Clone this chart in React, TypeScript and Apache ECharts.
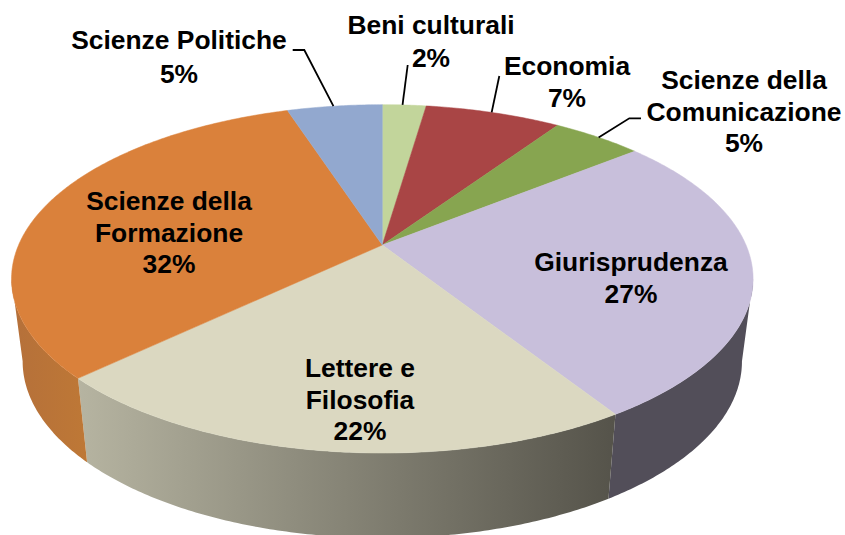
import React, { useEffect, useRef } from "react";
import * as echarts from "echarts";

const categories = ["Beni culturali", "Economia", "Scienze della\nComunicazione", "Giurisprudenza", "Lettere e\nFilosofia", "Scienze della\nFormazione", "Scienze Politiche"];
const shares = [2.3, 7.15, 4.75, 26.8, 21.9, 32.1, 5.0];

const topColors = ["#C2D59B", "#A94545", "#87A550", "#C8BFDB", "#DBD8C1", "#DA813B", "#92A8CF"];
const sideStops: [string, string][] = [
  ["#A0B080", "#A0B080"],
  ["#8A3838", "#8A3838"],
  ["#6E8840", "#6E8840"],
  ["#524E59", "#524E59"],
  ["#B6B4A1", "#55534A"],
  ["#B5703A", "#BE7836"],
  ["#7A8CAD", "#7A8CAD"],
];

// Perspective projection of the pie disc: top face and bottom face
const K = 0.1944;
const CX = 382.3;
const topFace = { cx: CX, cy: 245, b: 363.7, a: 167.6 };
const bottomFace = { cx: CX, cy: 327, b: 352.8, a: 170 };

// Label layout: centre x, first line centre y, leader path start, leader position inside the slice
const labelLayout = [
  { x: 431, y: 25, lh: 33, leader: [[407.7, 65]], at: 0.46 },
  { x: 567, y: 66, lh: 31.5, leader: [[499.3, 76]], at: 0.487 },
  { x: 744, y: 80, lh: 31.5, leader: [[641, 118.3], [629.3, 118.3]], at: 0.514 },
  { x: 631, y: 262, lh: 31.5 },
  { x: 360, y: 368, lh: 31.5 },
  { x: 169, y: 201, lh: 31.5 },
  { x: 179, y: 40, lh: 34, leader: [[292.7, 50], [304.3, 50]], at: 0.488 },
] as { x: number; y: number; lh: number; leader?: number[][]; at?: number }[];

const FONT = '"Liberation Sans", Arial, sans-serif';
const total = shares.reduce((s, v) => s + v, 0);
const starts = shares.map((_, i) => shares.slice(0, i).reduce((s, v) => s + v, 0) / total * Math.PI * 2);
const ends = shares.map((_, i) => shares.slice(0, i + 1).reduce((s, v) => s + v, 0) / total * Math.PI * 2);

function project(f: typeof topFace, t: number): number[] {
  const w = 1 + K * Math.cos(t);
  return [f.cx + (f.b * Math.sin(t)) / w, f.cy - (f.a * Math.cos(t)) / w];
}
function arc(f: typeof topFace, a0: number, a1: number): number[][] {
  const n = Math.max(2, Math.ceil(Math.abs(a1 - a0) / 0.01));
  const out: number[][] = [];
  for (let i = 0; i <= n; i++) out.push(project(f, a0 + ((a1 - a0) * i) / n));
  return out;
}
// silhouette angles of the disc
const visibleFrom = Math.acos(-K);
const visibleTo = Math.PI * 2 - visibleFrom;

const renderSide = (params: any) => {
  const i = params.dataIndex;
  const a0 = Math.max(starts[i], visibleFrom);
  const a1 = Math.min(ends[i], visibleTo);
  if (a1 <= a0) return { type: "group", children: [] };
  const points = [...arc(topFace, a0, a1), ...arc(bottomFace, a0, a1).reverse()];
  const [c0, c1] = sideStops[i];
  return {
    type: "polygon",
    shape: { points },
    style: {
      fill: { type: "linear", x: 0, y: 0, x2: 1, y2: 0, colorStops: [{ offset: 0, color: c0 }, { offset: 1, color: c1 }] },
    },
  };
};

const renderTop = (params: any) => {
  const i = params.dataIndex;
  const points = [[topFace.cx, topFace.cy], ...arc(topFace, starts[i], ends[i])];
  return {
    type: "polygon",
    shape: { points },
    style: { fill: topColors[i], stroke: topColors[i], lineWidth: 0.5 },
  };
};

const renderLabel = (params: any) => {
  const i = params.dataIndex;
  const l = labelLayout[i];
  const children: any[] = [];
  const lines = `${categories[i]}\n${Math.round(shares[i])}%`;
  children.push({
    type: "text",
    x: l.x,
    y: l.y - l.lh / 2,
    style: {
      text: lines,
      fill: "#000",
      font: `bold 26.4px ${FONT}`,
      lineHeight: l.lh,
      align: "center",
      verticalAlign: "top",
    },
  });
  if (l.leader) {
    const end = project(topFace, starts[i] + (ends[i] - starts[i]) * (l.at as number));
    children.push({
      type: "polyline",
      shape: { points: [...l.leader, end] },
      style: { stroke: "#000", lineWidth: 1.8, fill: "none" },
    });
  }
  return { type: "group", children };
};

export default function App() {
  const ref = useRef<HTMLDivElement>(null);
  useEffect(() => {
    document.body.style.margin = "0";
    const chart = echarts.init(ref.current!, undefined, { renderer: "svg" });
    const data = shares.map((value, i) => ({ value, name: categories[i] }));
    const base = { type: "custom", coordinateSystem: "none", data, silent: true, clip: false };
    chart.setOption({
      animation: false,
      backgroundColor: "#fff",
      series: [
        { ...base, name: "sides", renderItem: renderSide, z: 1 },
        { ...base, name: "tops", renderItem: renderTop, z: 2 },
        { ...base, name: "labels", renderItem: renderLabel, z: 3 },
      ],
    });
    return () => chart.dispose();
  }, []);
  return <div ref={ref} style={{ width: 845, height: 535 }} />;
}
